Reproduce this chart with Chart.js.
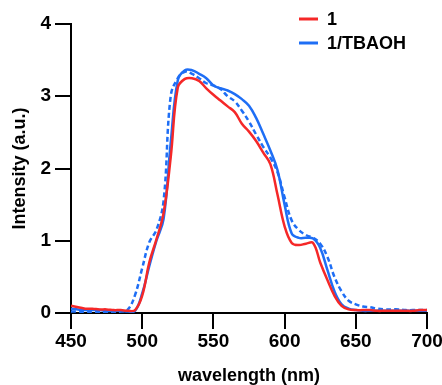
<!DOCTYPE html>
<html><head><meta charset="utf-8">
<script src="https://cdn.jsdelivr.net/npm/chart.js@4"></script>
<style>html,body{margin:0;padding:0;background:#fff;overflow:hidden}#wrap{width:442px;height:385px;position:relative}</style>
</head><body><div id="wrap"><canvas id="c"></canvas></div>
<script>
const wavelengths = [450,455,460,465,470,475,480,485,490,495,500,505,510,515,520,525,530,535,540,545,550,555,560,565,570,575,580,585,590,595,600,605,610,615,620,625,630,635,640,645,650,655,660,665,670,675,680,685,690,695,700];
const series1 = [0.10,0.08,0.06,0.06,0.05,0.05,0.04,0.04,0.03,0.04,0.24,0.70,1.02,1.38,2.15,3.12,3.24,3.25,3.21,3.11,3.02,2.94,2.86,2.78,2.62,2.51,2.38,2.22,2.06,1.64,1.20,0.97,0.94,0.96,0.97,0.70,0.46,0.24,0.10,0.05,0.04,0.04,0.04,0.03,0.03,0.03,0.03,0.03,0.03,0.04,0.04];
const seriesTBAOH = [0.06,0.05,0.04,0.04,0.04,0.03,0.03,0.03,0.02,0.03,0.27,0.65,1.00,1.30,2.35,3.22,3.36,3.36,3.31,3.25,3.15,3.11,3.08,3.03,2.96,2.87,2.70,2.48,2.25,1.98,1.50,1.10,1.04,1.04,1.03,0.90,0.60,0.30,0.12,0.06,0.04,0.03,0.03,0.03,0.03,0.03,0.03,0.03,0.03,0.03,0.03];
const seriesTBAOHdash = [0.02,0.02,0.01,0.01,0.01,0.01,0.01,0.02,0.05,0.25,0.62,0.98,1.15,1.55,3.00,3.25,3.34,3.31,3.25,3.18,3.15,3.10,3.00,2.93,2.80,2.65,2.47,2.30,2.15,1.95,1.60,1.28,1.15,1.08,1.04,0.96,0.78,0.50,0.30,0.17,0.12,0.09,0.08,0.06,0.05,0.05,0.05,0.04,0.04,0.04,0.04];
const xTicks = [450,500,550,600,650,700];
const yTicks = [0,1,2,3,4];
const legendLabels = ['1','1/TBAOH'];
const xTitle = 'wavelength (nm)';
const yTitle = 'Intensity (a.u.)';

const RED = 'rgb(245,40,40)';
const BLUE = 'rgb(30,110,245)';
const FAM = '"Liberation Sans", Arial, sans-serif';
const FONT = {family:FAM, size:18, weight:'bold'};
const TICKFONT = {family:FAM, size:19, weight:'bold'};

function pts(arr){ return wavelengths.map((w,i)=>({x:w,y:arr[i]})); }

const legendPlugin = {
  id:'customLegend',
  afterDraw(chart){
    const ctx = chart.ctx;
    const items = [{label:legendLabels[0], color:RED, y:19},{label:legendLabels[1], color:BLUE, y:43}];
    ctx.save();
    ctx.font = 'bold 18px ' + FAM;
    ctx.textBaseline = 'middle';
    ctx.textAlign = 'left';
    items.forEach(it=>{
      ctx.strokeStyle = it.color; ctx.lineWidth = 3; ctx.setLineDash([]);
      ctx.beginPath(); ctx.moveTo(299,it.y); ctx.lineTo(318,it.y); ctx.stroke();
      ctx.fillStyle = '#000';
      ctx.fillText(it.label, 327, it.y+1);
    });
    ctx.restore();
  }
};

new Chart(document.getElementById('c'), {
  type:'line',
  data:{datasets:[
    {label:legendLabels[0], data:pts(series1), borderColor:RED, borderWidth:2.5, pointRadius:0, tension:0.4, fill:false},
    {label:legendLabels[1], data:pts(seriesTBAOH), borderColor:BLUE, borderWidth:2.5, pointRadius:0, tension:0.4, fill:false},
    {label:'dash', data:pts(seriesTBAOHdash), borderColor:BLUE, borderWidth:2.5, borderDash:[5,3], pointRadius:0, tension:0.4, fill:false}
  ]},
  options:{
    responsive:true, maintainAspectRatio:false, animation:false,
    layout:{padding:{left:0,right:15,top:24,bottom:0}},
    plugins:{legend:{display:false}, tooltip:{enabled:false}},
    scales:{
      x:{type:'linear', min:450, max:700,
        afterBuildTicks:s=>{s.ticks = xTicks.map(v=>({value:v}));},
        afterFit:s=>{s.height=72; s.paddingLeft=0; s.paddingRight=0;},
        grid:{display:true, drawOnChartArea:false, drawTicks:true, tickLength:16, color:'#000', lineWidth:2},
        border:{display:true, color:'#000', width:2},
        ticks:{color:'#000', font:TICKFONT, padding:1, maxRotation:0, autoSkip:false},
        title:{display:true, text:xTitle, color:'#000', font:FONT, padding:{top:0,bottom:-2}}
      },
      y:{type:'linear', min:0, max:4,
        afterBuildTicks:s=>{s.ticks = yTicks.map(v=>({value:v}));},
        afterFit:s=>{s.width=71; s.paddingTop=0; s.paddingBottom=0;},
        grid:{display:true, drawOnChartArea:false, drawTicks:true, tickLength:16, color:'#000', lineWidth:2},
        border:{display:true, color:'#000', width:2},
        ticks:{color:'#000', font:TICKFONT, padding:4},
        title:{display:true, text:yTitle, color:'#000', font:FONT, padding:{top:9,bottom:0}}
      }
    }
  },
  plugins:[legendPlugin]
});
</script>
</body></html>
